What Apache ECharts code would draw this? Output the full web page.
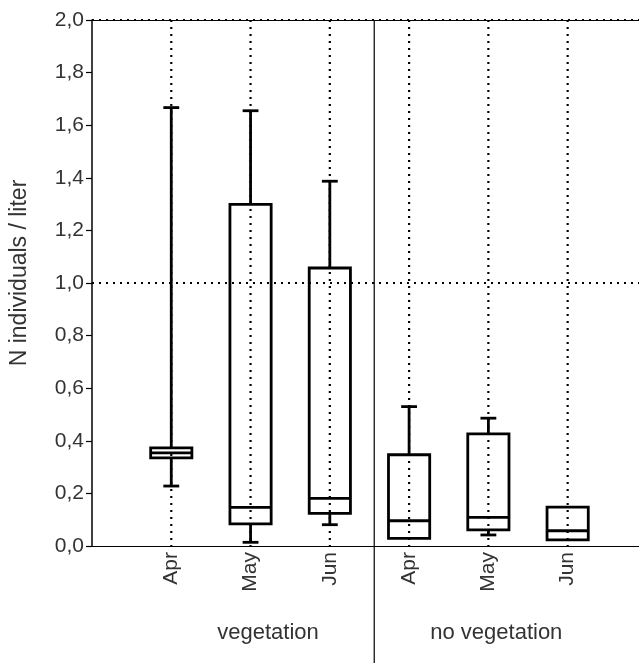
<!DOCTYPE html>
<html>
<head>
<meta charset="utf-8">
<script src="https://cdn.jsdelivr.net/npm/echarts@6/dist/echarts.min.js"></script>
<style>
html,body{margin:0;padding:0;background:#fff;}
#chart{width:639px;height:663px;}
</style>
</head>
<body>
<div id="chart"></div>
<script>
// ---- data ----
const months = ['Apr', 'May', 'Jun', 'Apr', 'May', 'Jun'];
const groups = ['vegetation', 'no vegetation'];
const whiskerMin = [0.228, 0.014, 0.081, 0.029, 0.042, 0.023];
const boxQ1      = [0.335, 0.084, 0.124, 0.029, 0.061, 0.023];
const medians    = [0.354, 0.147, 0.181, 0.096, 0.109, 0.058];
const boxQ3      = [0.373, 1.299, 1.057, 0.347, 0.426, 0.148];
const whiskerMax = [1.667, 1.655, 1.387, 0.530, 0.486, 0.148];
const yTicks = [0, 0.2, 0.4, 0.6, 0.8, 1.0, 1.2, 1.4, 1.6, 1.8, 2.0];
const refLines = [1.0, 2.0];

// ---- layout constants ----
const X_MAX = 6.9;
const SEP_X = 3.56;
const GROUP_LABEL_X = [2.22, 5.1];
const FONT = 'Liberation Sans, Arial, sans-serif';

const boxData = months.map((m, i) => [i + 1, whiskerMin[i], boxQ1[i], medians[i], boxQ3[i], whiskerMax[i]]);

const chart = echarts.init(document.getElementById('chart'));

function renderBox(params, api) {
  const x = api.value(0);
  const mn = api.value(1), q1 = api.value(2), md = api.value(3), q3 = api.value(4), mx = api.value(5);
  const halfBox = api.size([0.52, 0])[0] / 2;
  const halfCap = api.size([0.2, 0])[0] / 2;
  const pMin = api.coord([x, mn]), pQ1 = api.coord([x, q1]), pMd = api.coord([x, md]);
  const pQ3 = api.coord([x, q3]), pMx = api.coord([x, mx]);
  const pBot = api.coord([x, 0]), pTop = api.coord([x, 2]);
  const cx = pMd[0];
  const solid = { stroke: '#000', lineWidth: 2.8, fill: null };
  const children = [
    { type: 'line', shape: { x1: cx, y1: pTop[1], x2: cx, y2: pBot[1] },
      style: { stroke: '#000', lineWidth: 2.2, lineDash: [2, 5] } }
  ];
  if (mx > q3) {
    children.push({ type: 'line', shape: { x1: cx, y1: pMx[1], x2: cx, y2: pQ3[1] }, style: solid });
    children.push({ type: 'line', shape: { x1: cx - halfCap, y1: pMx[1], x2: cx + halfCap, y2: pMx[1] }, style: solid });
  }
  if (mn < q1) {
    children.push({ type: 'line', shape: { x1: cx, y1: pMin[1], x2: cx, y2: pQ1[1] }, style: solid });
    children.push({ type: 'line', shape: { x1: cx - halfCap, y1: pMin[1], x2: cx + halfCap, y2: pMin[1] }, style: solid });
  }
  children.push({ type: 'rect', shape: { x: cx - halfBox, y: pQ3[1], width: halfBox * 2, height: pQ1[1] - pQ3[1] }, style: solid });
  children.push({ type: 'line', shape: { x1: cx - halfBox, y1: pMd[1], x2: cx + halfBox, y2: pMd[1] }, style: solid });
  return { type: 'group', children };
}

function renderDecor(params, api) {
  // separator between groups + group labels
  const sepTop = api.coord([SEP_X, 2]);
  const children = [
    { type: 'line', shape: { x1: sepTop[0], y1: sepTop[1], x2: sepTop[0], y2: api.getHeight() },
      style: { stroke: '#000', lineWidth: 1.2 } }
  ];
  groups.forEach((g, i) => {
    const p = api.coord([GROUP_LABEL_X[i], 0]);
    children.push({ type: 'text', x: p[0], y: p[1] + 87,
      style: { text: g, fill: '#333', font: '22px ' + FONT, align: 'center', verticalAlign: 'middle' } });
  });
  return { type: 'group', children };
}

const option = {
  animation: false,
  grid: { left: 92, right: 0, top: 20, bottom: 117, containLabel: false },
  xAxis: {
    type: 'value', min: 0, max: X_MAX, interval: 1,
    axisLine: { show: true, onZero: false, lineStyle: { color: '#000', width: 1.2 } },
    axisTick: { show: false },
    splitLine: { show: false },
    axisLabel: {
      rotate: 90, margin: 6, color: '#333', fontSize: 21, fontFamily: FONT,
      formatter: v => (Number.isInteger(v) && v >= 1 && v <= months.length) ? months[v - 1] : ''
    }
  },
  yAxis: {
    type: 'value', min: 0, max: 2, interval: 0.2,
    name: 'N individuals / liter', nameLocation: 'middle', nameGap: 61, nameRotate: 90,
    nameTextStyle: { color: '#333', fontSize: 23, fontFamily: FONT, padding: [0, 0, 0, 20] },
    axisLine: { show: true, lineStyle: { color: '#000', width: 1.5 } },
    axisTick: { show: true, inside: false, length: 6, lineStyle: { color: '#000', width: 1.2 } },
    splitLine: { show: false },
    axisLabel: {
      margin: 8, color: '#333', fontSize: 21, fontFamily: FONT,
      formatter: v => { const t = yTicks.find(k => Math.abs(k - v) < 1e-6); return (t === undefined ? v : t).toFixed(1).replace('.', ','); }
    }
  },
  series: [
    {
      type: 'custom', renderItem: renderDecor, data: [[0, 0]], silent: true, clip: false, z: 1
    },
    {
      type: 'line', data: [], silent: true, z: 2,
      markLine: {
        silent: true, symbol: 'none', label: { show: false },
        lineStyle: { color: '#000', type: [2, 5], width: 2.2 },
        data: refLines.map(v => ({ yAxis: v }))
      }
    },
    {
      type: 'line', data: [], silent: true, z: 2,
      markLine: {
        silent: true, symbol: 'none', label: { show: false },
        lineStyle: { color: '#000', type: 'solid', width: 1 },
        data: [{ yAxis: refLines[1] }]
      }
    },
    {
      type: 'custom', renderItem: renderBox, data: boxData, z: 3, clip: false
    }
  ]
};
chart.setOption(option);
</script>
</body>
</html>
